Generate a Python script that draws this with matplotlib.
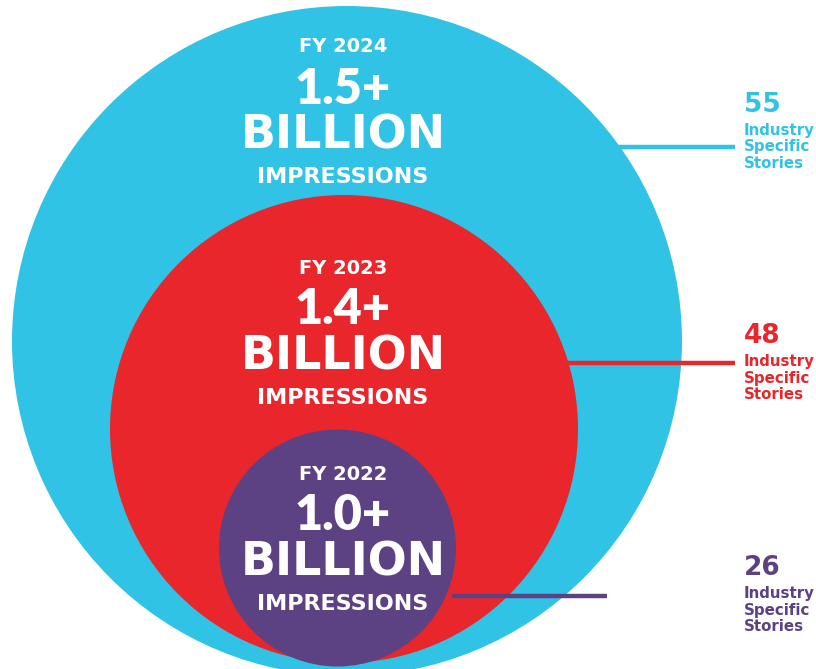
import matplotlib
matplotlib.use("Agg")
import matplotlib.pyplot as plt
from matplotlib.patches import Circle

# ── Data ──────────────────────────────────────────────────────────────────────
years       = ["FY 2024", "FY 2023", "FY 2022"]
impressions = ["1.5+", "1.4+", "1.0+"]
stories     = [55, 48, 26]
colors      = ["#31C3E6", "#E8262B", "#5C4283"]

# ── Layout (pixel coordinates, origin top-left) ──────────────────────────────
centers   = [(347, 341), (344, 429), (337.5, 548)]
radii     = [335, 234, 118.5]
text_y0   = [47, 268, 474]          # y of "FY" line
line_y    = [147, 363, 596]
line_x0   = [612, 566, 452]
line_x1   = [735, 735, 607]
label_y   = [105, 336, 568]

WIDE = ["DejaVu Sans"]
NUM  = ["Lato", "DejaVu Sans"]

fig = plt.figure(figsize=(8.16, 6.69), dpi=100)
ax = fig.add_axes([0, 0, 1, 1])
ax.set_xlim(0, 816)
ax.set_ylim(669, 0)
ax.set_aspect("equal")
ax.axis("off")

for i in range(3):
    ax.add_patch(Circle(centers[i], radii[i], color=colors[i], zorder=i + 1, lw=0))
    cx = 343
    y0 = text_y0[i]
    ax.text(cx, y0, years[i], color="white", fontsize=14, fontweight="bold",
            family=WIDE, ha="center", va="center", zorder=10)
    ax.text(cx, y0 + 42, impressions[i], color="white", fontsize=35, fontweight="heavy",
            family=NUM, ha="center", va="center", zorder=10)
    ax.text(cx, y0 + 89, "BILLION", color="white", fontsize=33, fontweight="bold",
            family=WIDE, ha="center", va="center", zorder=10)
    ax.text(cx, y0 + 130, "IMPRESSIONS", color="white", fontsize=16, fontweight="bold",
            family=WIDE, ha="center", va="center", zorder=10)

    # connector line and story count
    ax.plot([line_x0[i], line_x1[i]], [line_y[i], line_y[i]], color=colors[i],
            lw=3.2, solid_capstyle="butt", zorder=i + 1.5)
    ax.text(744, label_y[i], str(stories[i]), color=colors[i], fontsize=19,
            fontweight="bold", family=WIDE, ha="left", va="center", zorder=10)
    ax.text(744, label_y[i] + 42, "Industry\nSpecific\nStories", color=colors[i],
            fontsize=10.8, fontweight="bold", family=WIDE, ha="left", va="center",
            linespacing=1.15, zorder=10)

fig.savefig("out.png", dpi=100)
